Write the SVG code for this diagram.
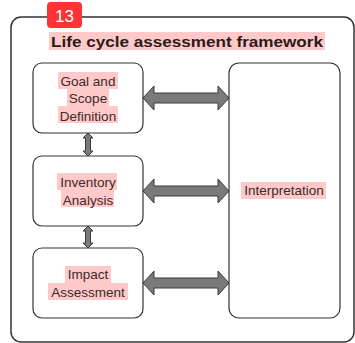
<svg xmlns="http://www.w3.org/2000/svg" width="355" height="343" viewBox="0 0 355 343">
<defs>
<style>
.box{fill:#fff;stroke:#333;stroke-width:1.2}
.hl{fill:#ffc9c9}
.lbl{font-family:"Liberation Sans",Arial,sans-serif;font-size:13.5px;fill:#3a2a2a;text-anchor:middle}
.arr{fill:#7a7a7a;stroke:#3a3a3a;stroke-width:1;stroke-linejoin:miter}
</style>
</defs>
<rect width="355" height="343" fill="#fff"/>
<rect x="11" y="17" width="343" height="325" rx="10" fill="none" stroke="#333" stroke-width="1.5"/>
<g id="badge">
<rect x="47" y="2" width="35" height="26" rx="4" fill="#f33"/>
<text x="64.5" y="22" font-family="Liberation Sans,Arial,sans-serif" font-size="17" fill="#fff" text-anchor="middle">13</text>
</g>
<g id="title">
<rect class="hl" x="49" y="32" width="276" height="18"/>
<text x="187" y="46.5" font-family="Liberation Sans,Arial,sans-serif" font-size="15.5" font-weight="bold" fill="#2a1a1a" text-anchor="middle" textLength="272" lengthAdjust="spacingAndGlyphs">Life cycle assessment framework</text>
</g>
<g id="connectors">
<polygon class="arr" points="143,98 154,86 154,93 218,93 218,86 229,98 218,110 218,103 154,103 154,110"/>
<polygon class="arr" points="143,191 154,179 154,186 218,186 218,179 229,191 218,203 218,196 154,196 154,203"/>
<polygon class="arr" points="143,283 154,271 154,278 218,278 218,271 229,283 218,295 218,288 154,288 154,295"/>
<polygon class="arr" points="88,133 93,138 90.5,138 90.5,151 93,151 88,156 83,151 85.5,151 85.5,138 83,138"/>
<polygon class="arr" points="88,226 93,231 90.5,231 90.5,243 93,243 88,248 83,243 85.5,243 85.5,231 83,231"/>
</g>
<g id="goal">
<rect class="box" x="33" y="63" width="110" height="70" rx="9"/>
<rect class="hl" x="58" y="72" width="60" height="17"/>
<rect class="hl" x="67" y="89" width="42" height="17"/>
<rect class="hl" x="58" y="106" width="60" height="17"/>
<text class="lbl" x="88" y="85.5">Goal and</text>
<text class="lbl" x="88" y="103">Scope</text>
<text class="lbl" x="88" y="120.5">Definition</text>
</g>
<g id="inventory">
<rect class="box" x="33" y="156" width="110" height="70" rx="9"/>
<rect class="hl" x="57" y="173" width="60" height="17"/>
<rect class="hl" x="61" y="190" width="53" height="17"/>
<text class="lbl" x="88" y="187">Inventory</text>
<text class="lbl" x="88" y="204.5">Analysis</text>
</g>
<g id="impact">
<rect class="box" x="33" y="248" width="110" height="70" rx="9"/>
<rect class="hl" x="65" y="266" width="46" height="17"/>
<rect class="hl" x="48" y="283" width="80" height="17"/>
<text class="lbl" x="88" y="279">Impact</text>
<text class="lbl" x="88" y="296.5">Assessment</text>
</g>
<g id="interpretation">
<rect class="box" x="229" y="63" width="111" height="255" rx="10"/>
<rect class="hl" x="241" y="182" width="85" height="17"/>
<text class="lbl" x="284" y="195">Interpretation</text>
</g>
</svg>
